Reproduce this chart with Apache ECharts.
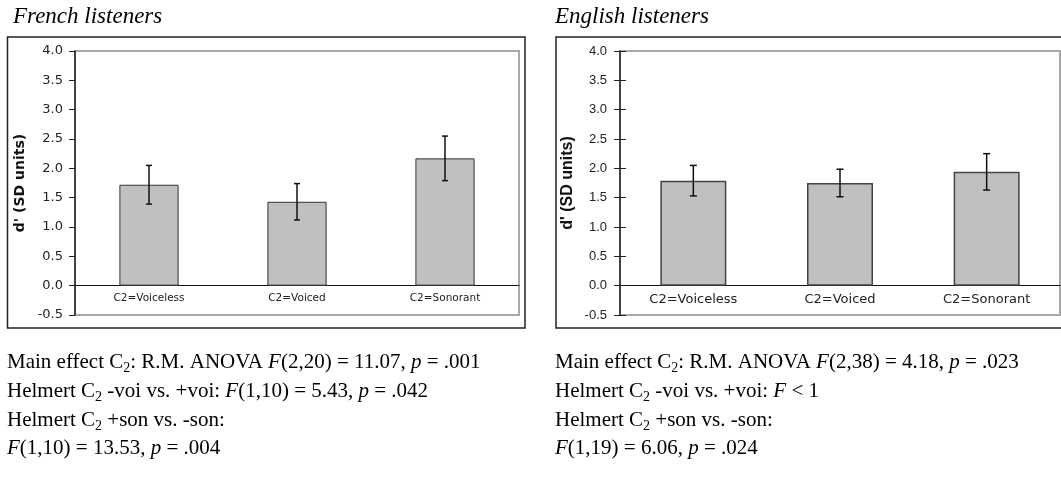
<!DOCTYPE html>
<html>
<head>
<meta charset="utf-8">
<script src="https://cdn.jsdelivr.net/npm/echarts@6/dist/echarts.min.js"></script>
<style>
  html, body { margin: 0; padding: 0; background: #fff; }
  #chart { width: 1061px; height: 488px; }
</style>
</head>
<body>
<div id="chart"></div>
<script>
// Conditions on the category axis
const categories = ['C2=Voiceless', 'C2=Voiced', 'C2=Sonorant'];

// Mean d' and error-bar half-widths, French listeners
const frenchMeans = [1.72, 1.43, 2.17];
const frenchErrors = [0.33, 0.31, 0.38];

// Mean d' and error-bar half-widths, English listeners
const englishMeans = [1.79, 1.75, 1.94];
const englishErrors = [0.26, 0.235, 0.31];

// Value axis range and step
const yMin = -0.5;
const yMax = 4.0;
const yStep = 0.5;

const panelTitles = ['French listeners', 'English listeners'];
const yAxisTitle = "d' (SD units)";

// Statistics printed under each panel (rich-text markup: i = italic, s = subscript)
const frenchStats = [
  'Main effect C{s|2}: R.M. ANOVA {i|F}(2,20) = 11.07, {i|p} = .001',
  'Helmert C{s|2} -voi vs. +voi: {i|F}(1,10) = 5.43, {i|p} = .042',
  'Helmert C{s|2} +son vs. -son:',
  '{i|F}(1,10) = 13.53, {i|p} = .004'
];
const englishStats = [
  'Main effect C{s|2}: R.M. ANOVA {i|F}(2,38) = 4.18, {i|p} = .023',
  'Helmert C{s|2} -voi vs. +voi: {i|F} < 1',
  'Helmert C{s|2} +son vs. -son:',
  '{i|F}(1,19) = 6.06, {i|p} = .024'
];

const chart = echarts.init(document.getElementById('chart'), null, { renderer: 'canvas' });

const serif = 'Liberation Serif, Times New Roman, serif';

// Plot area geometry shared by both panels
const gridTop = 51;
const gridBottom = 173;
const plotHeight = 488 - gridTop - gridBottom;
// lift the category axis from the bottom edge (yMin) up to the zero line
const zeroLift = -plotHeight * (0 - yMin) / (yMax - yMin);

function errorBarSeries(means, errors, xi, yi, capHalf) {
  return {
    type: 'custom',
    xAxisIndex: xi,
    yAxisIndex: yi,
    z: 5,
    data: means.map((m, i) => [i, m, errors[i]]),
    renderItem: function (params, api) {
      const c = api.value(0);
      const m = api.value(1);
      const e = api.value(2);
      const top = api.coord([c, m + e]);
      const bot = api.coord([c, m - e]);
      const st = { stroke: '#111', lineWidth: 1.5 };
      return {
        type: 'group',
        children: [
          { type: 'line', shape: { x1: top[0], y1: top[1], x2: bot[0], y2: bot[1] }, style: st },
          { type: 'line', shape: { x1: top[0] - capHalf, y1: top[1], x2: top[0] + capHalf, y2: top[1] }, style: st },
          { type: 'line', shape: { x1: bot[0] - capHalf, y1: bot[1], x2: bot[0] + capHalf, y2: bot[1] }, style: st }
        ]
      };
    }
  };
}

function statsText(lines, x) {
  const baselines = [366, 395, 424, 452];
  return lines.map((t, i) => ({
    type: 'text',
    left: x,
    top: baselines[i] - 17,
    style: {
      text: t,
      font: '21px ' + serif,
      fill: '#000',
      rich: {
        i: { fontFamily: serif, fontSize: 21, fontStyle: 'italic', fill: '#000', lineHeight: 26 },
        s: { fontFamily: serif, fontSize: 14, fill: '#000', verticalAlign: 'bottom', lineHeight: 14 }
      },
      lineHeight: 26
    }
  }));
}

const gridBorder = { show: true, borderColor: '#a8a8a8', borderWidth: 2, backgroundColor: 'transparent' };

const option = {
  animation: false,
  backgroundColor: '#fff',
  grid: [
    Object.assign({ left: 75, right: 542, top: gridTop, bottom: gridBottom }, gridBorder),
    Object.assign({ left: 620, right: 1, top: gridTop, bottom: gridBottom }, gridBorder)
  ],
  xAxis: [
    {
      type: 'category', gridIndex: 0, data: categories, position: 'bottom', offset: zeroLift,
      axisLine: { onZero: false, lineStyle: { color: '#111', width: 1 } },
      axisTick: { length: 5, lineStyle: { color: '#111' } },
      axisLabel: { fontFamily: 'DejaVu Sans', fontSize: 10.5, color: '#222', margin: 7 }
    },
    {
      type: 'category', gridIndex: 1, data: categories, position: 'bottom', offset: zeroLift,
      axisLine: { onZero: false, lineStyle: { color: '#111', width: 1 } },
      axisTick: { length: 6, lineStyle: { color: '#111' } },
      axisLabel: { fontFamily: 'DejaVu Sans', fontSize: 13, color: '#222', margin: 7 }
    }
  ],
  yAxis: [
    {
      type: 'value', gridIndex: 0, position: 'left', min: yMin, max: yMax, interval: yStep,
      name: yAxisTitle, nameLocation: 'middle', nameRotate: 90, nameGap: 48,
      nameTextStyle: { fontFamily: 'DejaVu Sans', fontWeight: 'bold', fontSize: 14, color: '#111' },
      axisLine: { show: true, lineStyle: { color: '#222', width: 1.5 } },
      axisTick: { show: true, length: 6, lineStyle: { color: '#222' } },
      splitLine: { show: false },
      axisLabel: { formatter: v => v.toFixed(1), fontFamily: 'DejaVu Sans', fontSize: 13, color: '#222', margin: 12 }
    },
    {
      type: 'value', gridIndex: 1, position: 'left', min: yMin, max: yMax, interval: yStep,
      name: yAxisTitle, nameLocation: 'middle', nameRotate: 90, nameGap: 44,
      nameTextStyle: { fontFamily: 'Liberation Sans', fontWeight: 'bold', fontSize: 16, color: '#111' },
      axisLine: { show: true, lineStyle: { color: '#222', width: 1.5 } },
      axisTick: { show: true, length: 6, lineStyle: { color: '#222' } },
      splitLine: { show: false },
      axisLabel: { formatter: v => v.toFixed(1), fontFamily: 'Liberation Sans', fontSize: 13, color: '#222', margin: 13 }
    },
    {
      // inner half of the crossing ticks on the English panel
      type: 'value', gridIndex: 1, position: 'left', min: yMin, max: yMax, interval: yStep,
      axisLine: { show: false },
      axisTick: { show: true, inside: true, length: 6, lineStyle: { color: '#222' } },
      axisLabel: { show: false },
      splitLine: { show: false }
    }
  ],
  series: [
    {
      type: 'bar', xAxisIndex: 0, yAxisIndex: 0, data: frenchMeans, barWidth: '40%',
      itemStyle: { color: '#c0c0c0', borderColor: '#333', borderWidth: 1 }
    },
    errorBarSeries(frenchMeans, frenchErrors, 0, 0, 3),
    {
      type: 'bar', xAxisIndex: 1, yAxisIndex: 1, data: englishMeans, barWidth: '45%',
      itemStyle: { color: '#c0c0c0', borderColor: '#444', borderWidth: 1.5 }
    },
    errorBarSeries(englishMeans, englishErrors, 1, 1, 3.5)
  ],
  graphic: [
    { type: 'rect', shape: { x: 7.5, y: 37, width: 517.5, height: 291 }, style: { fill: 'none', stroke: '#222', lineWidth: 1.5 }, z: 0 },
    { type: 'rect', shape: { x: 556, y: 37, width: 520, height: 291 }, style: { fill: 'none', stroke: '#222', lineWidth: 1.5 }, z: 0 },
    { type: 'text', left: 13, top: 5, style: { text: panelTitles[0], font: 'italic 23px ' + serif, fill: '#000' } },
    { type: 'text', left: 555, top: 5, style: { text: panelTitles[1], font: 'italic 23px ' + serif, fill: '#000' } }
  ].concat(statsText(frenchStats, 7), statsText(englishStats, 555))
};

chart.setOption(option);
</script>
</body>
</html>
